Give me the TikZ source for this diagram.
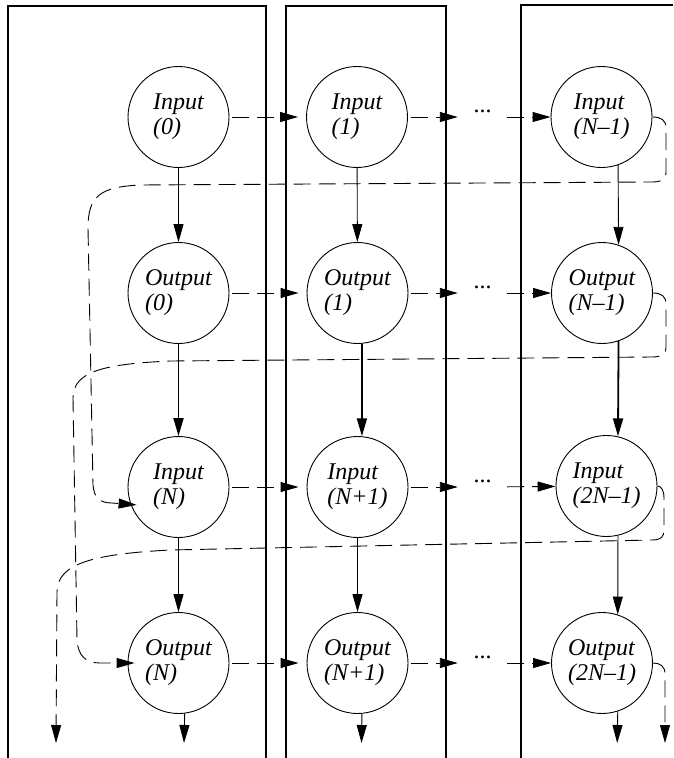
\documentclass[tikz,border=0pt]{standalone}
\usepackage{fontspec}
\setmainfont{Liberation Serif}
\usetikzlibrary{arrows.meta}
\begin{document}
\begin{tikzpicture}[x=1pt,y=-1pt,
  st/.style={circle,draw,line width=0.9pt,minimum size=101pt,inner sep=0pt,align=left,font=\fontsize{24}{25}\selectfont\itshape},
  dotsn/.style={inner xsep=15.5pt,inner ysep=0pt,text height=0pt,text depth=9pt,font=\fontsize{24}{25}\selectfont},
  boxline/.style={line width=1.6pt},
  tipstyle/.style={-{Triangle[length=18pt,width=10pt]}},
  arr/.style={tipstyle,line width=0.9pt},
  thickarr/.style={tipstyle,line width=1.8pt},
  darr/.style={tipstyle,line width=0.9pt,dash pattern=on 17pt off 8pt},
  hop/.style={darr,shorten <=3pt,shorten >=8pt},
]
\useasboundingbox (0,0) rectangle (673,758);
% boxes
\draw[boxline] (8,758) -- (8,6) -- (266,6) -- (266,758);
\draw[boxline] (286,758) -- (286,6) -- (446,6) -- (446,758);
\draw[boxline] (521,758) -- (521,5) -- (673,5);
% states
\node[st] (in0) at (178.5,117) {Input\\(0)};
\node[st] (out0) at (178.5,293) {Output\\(0)};
\node[st] (inN) at (178.5,487) {Input\\(N)};
\node[st] (outN) at (178.5,663) {Output\\(N)};
\node[st] (in1) at (357,117) {Input\\(1)};
\node[st] (out1) at (357.5,293) {Output\\(1)};
\node[st] (inN1) at (357.5,487) {Input\\(N+1)};
\node[st] (outN1) at (357.5,663) {Output\\(N+1)};
\node[st] (inNm1) at (601.5,117) {Input\\(N–1)};
\node[st] (outNm1) at (602,293) {Output\\(N–1)};
\node[st] (inM) at (606.5,486) {Input\\(2N–1)};
\node[st] (outM) at (602,663) {Output\\(2N–1)};
% dots
\node[dotsn] (d1) at (482.5,117) {...};
\node[dotsn] (d2) at (482.5,293) {...};
\node[dotsn] (d3) at (482.5,487) {...};
\node[dotsn] (d4) at (482.5,663) {...};
% free ends
\coordinate (endN) at (184,743);
\coordinate (endN1) at (361.5,743);
\coordinate (endM) at (617.2,743);
\coordinate (endL) at (56,743);
\coordinate (endR) at (665,743);
% vertical arrows
\draw[arr] (in0) -- (out0);
\draw[thickarr] (out0) -- (inN);
\draw[arr] (inN) -- (outN);
\draw[arr] (outN.-83.7) -- (endN);
\draw[arr] (in1) -- (out1);
\draw[thickarr] (out1.-85.4) -- (inN1.85.4);
\draw[arr] (inN1) -- (outN1);
\draw[arr] (outN1.-85.4) -- (endN1);
\draw[arr] (inNm1.-71) -- (outNm1.71);
\draw[thickarr] (outNm1.-71) -- (inM.77);
\draw[arr] (inM.-77) -- (outM.72.5);
\draw[arr] (outM.-72.5) -- (endM);
% horizontal dashed arrows
\draw[hop] (in0) -- (in1);
\draw[darr,shorten <=3pt] (in1) -- (d1);
\draw[darr] (d1) -- (inNm1);
\draw[hop] (out0) -- (out1);
\draw[darr,shorten <=3pt] (out1) -- (d2);
\draw[darr] (d2) -- (outNm1);
\draw[hop] (inN) -- (inN1);
\draw[darr,shorten <=3pt] (inN1) -- (d3);
\draw[darr] (d3) -- (inM);
\draw[hop] (outN) -- (outN1);
\draw[darr,shorten <=3pt] (outN1) -- (d4);
\draw[darr] (d4) -- (outM);
% wrap-around connectors
\draw[darr,shorten >=-6pt] (inNm1.east) .. controls (661,117) and (666,120) .. (666,128) -- (666,172) .. controls (666,179) and (662,182) .. (652,182) -- (140,185) .. controls (100,187) and (88,196) .. (88,228) -- (93,485) .. controls (94,498) and (100,503) .. (112,503) -- (inN.200);
\draw[darr,shorten >=-7pt] (outNm1.east) .. controls (661,293) and (666,296) .. (666,304) -- (666,348) .. controls (666,354) and (662,357) .. (652,357) -- (170,361) .. controls (105,364) and (73,371) .. (73,398) -- (77,640) .. controls (78,655) and (85,663) .. (100,663) -- (outN.west);
\draw[darr] (inM.east) .. controls (661,486) and (664,490) .. (664,498) -- (664,530) .. controls (664,537) and (661,540) .. (652,540) -- (170,550) .. controls (95,554) and (57,563) .. (57,592) -- (endL);
\draw[darr] (outM.east) .. controls (660,663) and (665,666) .. (665,674) -- (endR);
\end{tikzpicture}
\end{document}
